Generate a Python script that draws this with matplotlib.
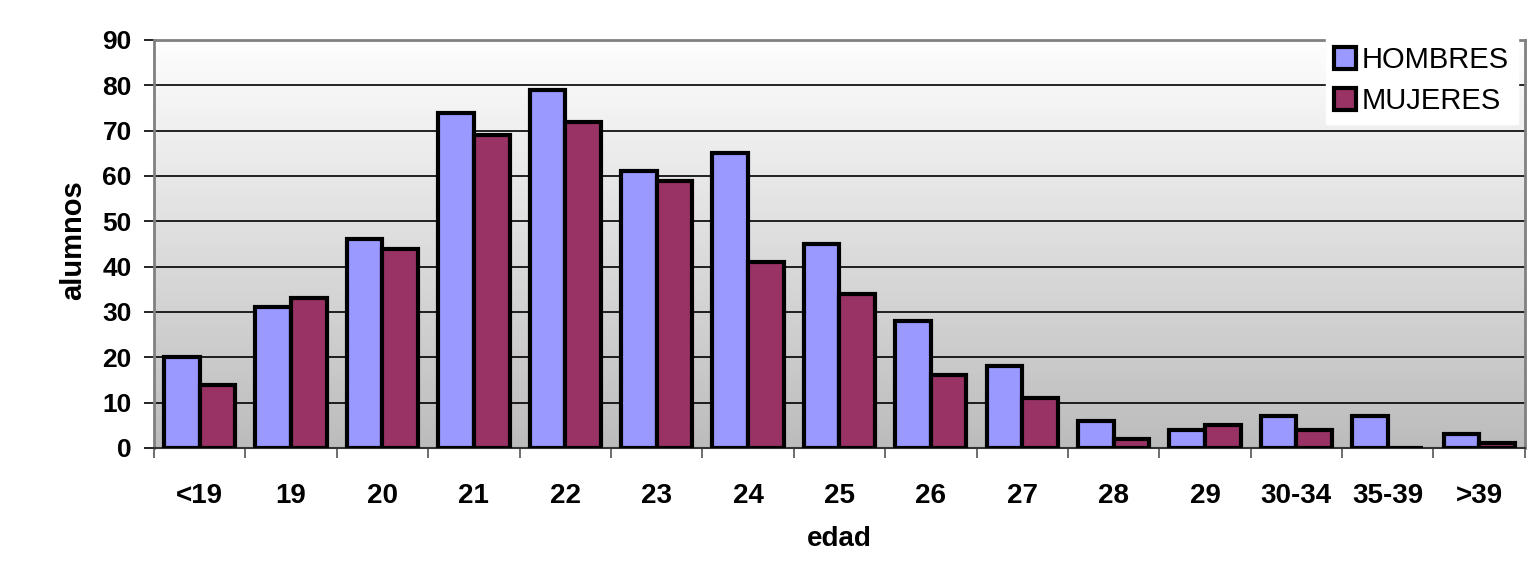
import matplotlib.pyplot as plt
import numpy as np
from matplotlib.colors import LinearSegmentedColormap

plt.rcParams['font.family'] = ['Liberation Sans', 'DejaVu Sans']

edades = ['<19', '19', '20', '21', '22', '23', '24', '25', '26', '27',
          '28', '29', '30-34', '35-39', '>39']
hombres = [20, 31, 46, 74, 79, 61, 65, 45, 28, 18, 6, 4, 7, 7, 3]
mujeres = [14, 33, 44, 69, 72, 59, 41, 34, 16, 11, 2, 5, 4, 0, 1]

fig = plt.figure(figsize=(15.31, 5.68), dpi=100)
ax = fig.add_axes([0.1006, 0.2113, 0.8954, 0.7183])

x = np.arange(len(edades))
w = 0.39

# fondo degradado blanco (arriba) -> gris (abajo)
grad = np.linspace(0, 1, 256).reshape(-1, 1)
cmap = LinearSegmentedColormap.from_list('g', ['#fefefe', '#bcbcbc'])
ax.imshow(grad, cmap=cmap, aspect='auto', origin='upper',
          extent=[-0.5, len(edades) - 0.5, 0, 90], zorder=0)

ax.bar(x - w / 2, hombres, w, color='#9999ff', edgecolor='black',
       linewidth=3, label='HOMBRES', zorder=3)
ax.bar(x + w / 2, mujeres, w, color='#993366', edgecolor='black',
       linewidth=3, label='MUJERES', zorder=3)

ax.set_xlim(-0.5, len(edades) - 0.5)
ax.set_ylim(0, 90)
ax.set_yticks(range(0, 91, 10))
for v in range(10, 90, 10):
    ax.axhline(v, color='black', linewidth=1.2, zorder=1)

ax.set_xticks(np.arange(-0.5, len(edades), 1))
ax.set_xticklabels([])
ax.set_xticks(x, minor=True)
ax.set_xticklabels(edades, minor=True, fontsize=20, fontweight='bold')
ax.tick_params(axis='x', which='major', direction='out', length=7, width=1.2, color='#555555')
ax.tick_params(axis='x', which='minor', length=0, pad=25)
ax.tick_params(axis='y', direction='out', length=7, width=1.2, labelsize=19, pad=9)
for lab in ax.get_yticklabels():
    lab.set_fontweight('bold')

for s in ['left', 'top', 'right']:
    ax.spines[s].set_color('#808080')
    ax.spines[s].set_linewidth(2)
ax.spines['bottom'].set_color('#333333')
ax.spines['bottom'].set_linewidth(1.5)

ax.set_xlabel('edad', fontsize=20, fontweight='bold')
ax.xaxis.set_label_coords(0.5, -0.19)
ax.set_ylabel('alumnos', fontsize=21, fontweight='bold')
ax.yaxis.set_label_coords(-0.049, 0.51)

leg = fig.legend(loc='upper right', bbox_to_anchor=(1.001, 0.96), fontsize=21,
                 frameon=True, fancybox=False, handlelength=0.75, handleheight=0.75,
                 handletextpad=0.2, labelspacing=0.45, borderpad=0.3)
leg.get_frame().set_facecolor('white')
leg.get_frame().set_edgecolor('white')
leg.get_frame().set_alpha(1)
for p in leg.get_patches():
    p.set_linewidth(3)

fig.savefig('out.png', dpi=100)
